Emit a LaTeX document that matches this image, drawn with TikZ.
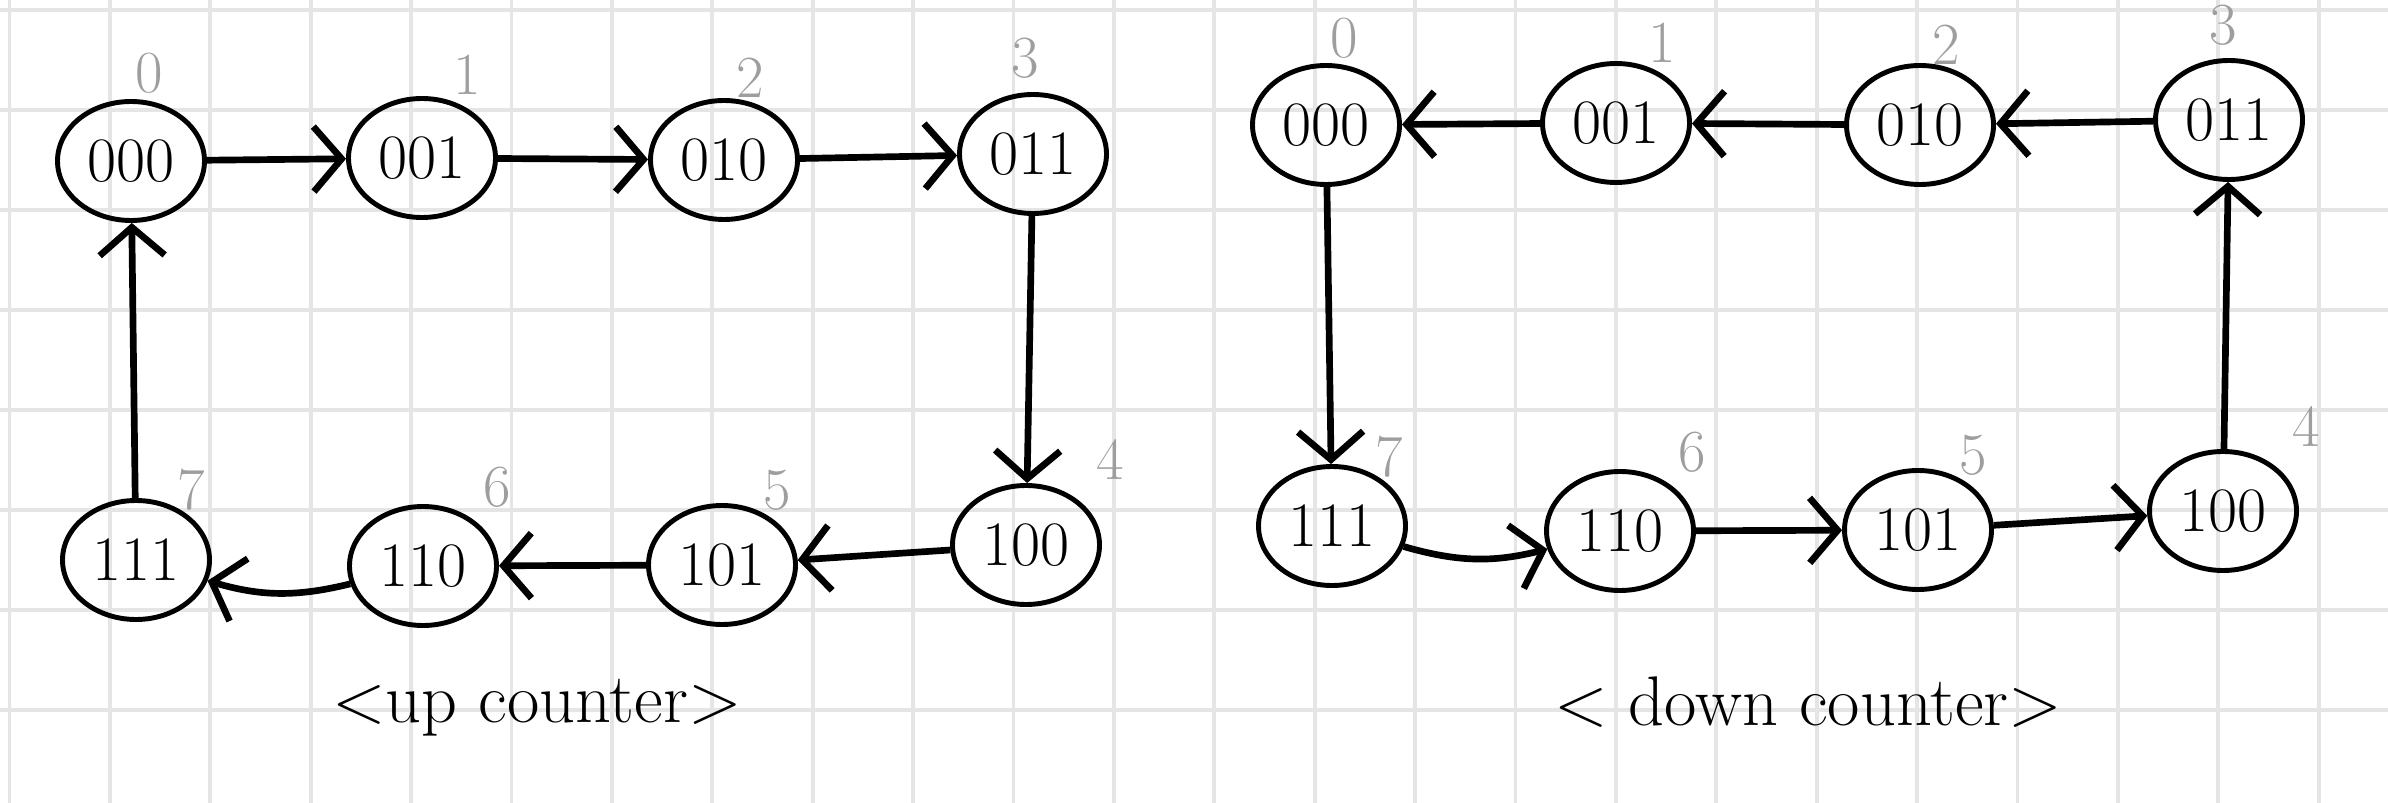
\documentclass[tikz,border=0pt]{standalone}
\usetikzlibrary{shapes.geometric,arrows.meta}

\tikzset{
	state/.style={draw, ellipse, line width=1.4pt, minimum width=1.47cm,
		minimum height=1.19cm, inner sep=0pt, font=\fontsize{18}{21}\selectfont},
	idx/.style={text=black!38, font=\fontsize{17}{19}\selectfont},
	trans/.style={line width=1.9pt, -{Straight Barb[length=2.8mm,width=6.5mm]}},
	gridline/.style={draw=black!10, line width=1.1pt},
	caption/.style={font=\fontsize{20}{24}\selectfont}
}

\begin{document}
\begin{tikzpicture}
	\useasboundingbox (0,0) rectangle (23.88,-8.03);
	% grid paper
	\foreach \k in {0,...,23}
		\draw[gridline] ({0.095+1.004*\k},0) -- ++(0,-8.03);
	\foreach \k in {0,...,7}
		\draw[gridline] (0,{-0.10-\k}) -- ++(23.88,0);

	% up counter
	\node[state] (u0) at (1.31,-1.61) {000};
	\node[state] (u1) at (4.22,-1.58) {001};
	\node[state] (u2) at (7.24,-1.60) {010};
	\node[state] (u3) at (10.33,-1.54) {011};
	\node[state] (u4) at (10.26,-5.45) {100};
	\node[state] (u5) at (7.22,-5.65) {101};
	\node[state] (u6) at (4.23,-5.66) {110};
	\node[state] (u7) at (1.36,-5.60) {111};

	\node[idx] (ui0) at (1.49,-0.73) {0};
	\node[idx] (ui1) at (4.67,-0.75) {1};
	\node[idx] (ui2) at (7.50,-0.78) {2};
	\node[idx] (ui3) at (10.25,-0.58) {3};
	\node[idx] (ui4) at (11.10,-4.60) {4};
	\node[idx] (ui5) at (7.77,-4.90) {5};
	\node[idx] (ui6) at (4.97,-4.87) {6};
	\node[idx] (ui7) at (1.91,-4.90) {7};

	\draw[trans] (u0) -- (u1);
	\draw[trans] (u1) -- (u2);
	\draw[trans] (u2) -- (u3);
	\draw[trans] (u3) -- (u4);
	\draw[trans] (u4) -- (u5);
	\draw[trans] (u5) -- (u6);
	\draw[trans] (u6) to[bend left=15] (u7);
	\draw[trans] (u7) -- (u0);

	\node[caption] (upcap) at (5.37,-7.08) {<up counter>};

	% down counter
	\node[state] (d0) at (13.26,-1.25) {000};
	\node[state] (d1) at (16.16,-1.23) {001};
	\node[state] (d2) at (19.20,-1.25) {010};
	\node[state] (d3) at (22.29,-1.20) {011};
	\node[state] (d4) at (22.23,-5.11) {100};
	\node[state] (d5) at (19.18,-5.30) {101};
	\node[state] (d6) at (16.20,-5.31) {110};
	\node[state] (d7) at (13.32,-5.26) {111};

	\node[idx] (di0) at (13.44,-0.38) {0};
	\node[idx] (di1) at (16.62,-0.43) {1};
	\node[idx] (di2) at (19.46,-0.45) {2};
	\node[idx] (di3) at (22.23,-0.25) {3};
	\node[idx] (di4) at (23.06,-4.27) {4};
	\node[idx] (di5) at (19.73,-4.55) {5};
	\node[idx] (di6) at (16.92,-4.52) {6};
	\node[idx] (di7) at (13.89,-4.57) {7};

	\draw[trans] (d3) -- (d2);
	\draw[trans] (d2) -- (d1);
	\draw[trans] (d1) -- (d0);
	\draw[trans] (d0) -- (d7);
	\draw[trans] (d7) to[bend right=15] (d6);
	\draw[trans] (d6) -- (d5);
	\draw[trans] (d5) -- (d4);
	\draw[trans] (d4) -- (d3);

	\node[caption] (downcap) at (18.08,-7.02) {< down counter>};
\end{tikzpicture}
\end{document}
